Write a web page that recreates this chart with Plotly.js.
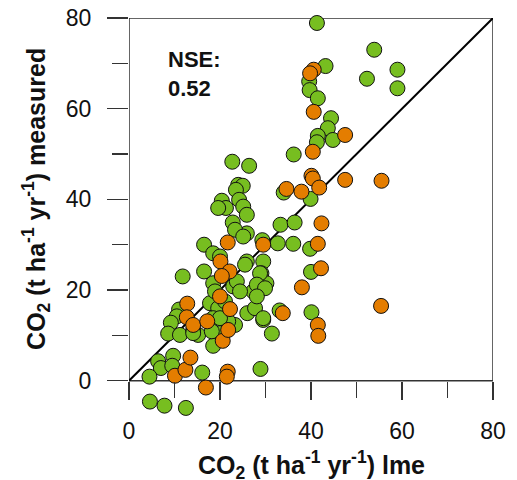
<!DOCTYPE html>
<html>
<head>
<meta charset="utf-8">
<script src="https://cdn.plot.ly/plotly-3.0.1.min.js"></script>
<style>html,body{margin:0;padding:0;background:#fff;}#chart{width:517px;height:480px;}</style>
</head>
<body>
<div id="chart"></div>
<script>
// Green series: lme-modelled vs measured CO2
const greenX = [41.3,53.9,59.0,52.3,59.0,43.2,39.6,39.7,41.5,44.4,43.7,41.5,44.8,41.3,36.2,34.0,39.9,33.3,36.4,39.8,36.1,40.0,40.1,32.7,29.5,29.1,30.2,33.1,29.5,31.4,28.9,
  22.7,26.4,24.0,25.0,23.5,20.4,24.2,21.3,25.1,19.6,25.9,22.8,25.9,23.3,25.1,16.5,18.5,20.0,25.9,16.5,22.9,18.5,17.8,19.6,27.3,26.0,27.7,
  11.8,11.0,10.5,9.2,8.6,11.2,15.2,14.1,18.5,20.0,18.5,18.2,6.4,7.0,9.7,9.5,4.5,16.1,4.6,7.8,12.5,
  25.5,28.8,23.7,24.4,28.1,29.9,28.1,29.5,23.3,29.3,18.9,21.1,21.8,20.0,14.1];
const greenY = [78.9,73.0,68.6,66.6,64.5,69.4,66.0,64.1,62.3,57.9,55.7,54.0,53.1,52.6,49.9,41.5,40.1,34.4,34.9,29.1,30.2,24.0,15.1,30.3,26.3,23.7,21.5,15.5,13.4,10.4,2.6,
  48.3,47.4,43.2,43.0,42.1,39.7,39.9,38.1,38.4,38.1,36.6,34.9,32.5,33.3,31.8,30.0,28.1,27.4,26.3,24.1,20.8,21.5,17.1,16.0,19.7,14.9,16.0,
  23.0,15.7,14.2,12.8,10.4,10.1,10.1,11.2,13.8,10.5,7.7,10.9,4.3,2.8,5.5,3.3,0.9,1.8,-4.6,-5.5,-6.0,
  25.6,23.7,21.9,19.7,21.2,20.4,18.6,13.8,12.3,31.0,19.7,17.5,13.1,13.8,10.5];
// Orange series
const orangeX = [40.6,39.8,40.6,47.5,40.4,40.1,40.4,47.5,55.5,34.6,37.9,41.8,42.3,41.5,42.2,38.0,55.4,41.5,41.6,33.8,
  21.7,21.5,16.9,10.1,12.4,13.5,20.6,21.8,21.7,20.1,22.1,20.4,20.0,22.2,12.8,12.7,14.1,17.2,29.5];
const orangeY = [68.6,67.8,59.3,54.2,50.5,45.2,44.6,44.3,44.1,42.3,41.7,42.6,34.7,30.2,24.8,20.6,16.5,12.3,9.9,14.9,
  2.0,0.9,-1.5,1.1,2.4,5.1,8.8,11.2,30.5,26.3,24.1,23.1,18.6,15.8,17.0,14.0,12.3,13.1,30.0];
// 1:1 line
const lineX = [0, 80];
const lineY = [0, 80];
const tickVals = [0, 20, 40, 60, 80];
const nseText = 'NSE:<br>0.52';
const xTitle = 'CO<sub>2</sub> (t ha<sup>-1</sup> yr<sup>-1</sup>) lme';
const yTitle = 'CO<sub>2</sub> (t ha<sup>-1</sup> yr<sup>-1</sup>) measured';

const FONT = 'Liberation Sans, Arial, sans-serif';
const mk = (c) => ({size: 15, color: c, line: {color: '#111', width: 1}});

const traces = [
  {x: lineX, y: lineY, mode: 'lines', line: {color: '#000', width: 2}, hoverinfo: 'skip', cliponaxis: false},
  {x: greenX, y: greenY, mode: 'markers', marker: mk('#77be20'), cliponaxis: false},
  {x: orangeX, y: orangeY, mode: 'markers', marker: mk('#e47d00'), cliponaxis: false}
];

const Y_MIN = -8;
const axisCommon = {
  tickvals: tickVals, showgrid: false, zeroline: false, showline: false,
  ticks: 'outside', tickcolor: '#333', tickwidth: 1.5,
  tickfont: {family: FONT, size: 23, color: '#111'},
  minor: {dtick: 10, tick0: 0, ticks: 'outside', ticklen: 16, tickwidth: 1.5, tickcolor: '#333'},
  fixedrange: true
};

const layout = {
  width: 517, height: 480,
  margin: {l: 129, r: 24, t: 18, b: 63, pad: 0},
  paper_bgcolor: '#fff', plot_bgcolor: 'rgba(0,0,0,0)',
  showlegend: false,
  xaxis: Object.assign({}, axisCommon, {range: [0, 80], ticklen: 18, ticklabelstandoff: 12,
    anchor: 'free', position: (0 - Y_MIN) / (80 - Y_MIN)}),
  yaxis: Object.assign({}, axisCommon, {range: [Y_MIN, 80], ticklen: 21, ticklabelstandoff: 11}),
  shapes: [
    {type: 'rect', xref: 'x', yref: 'y', x0: 0, x1: 80, y0: 0, y1: 80, layer: 'below',
     line: {color: '#333', width: 1.5}, fillcolor: 'rgba(0,0,0,0)'}
  ],
  annotations: [
    {xref: 'x', yref: 'y', x: 8.1, y: 74, xanchor: 'left', yanchor: 'top', align: 'left',
     text: '<b>' + nseText + '</b>', showarrow: false, font: {family: FONT, size: 22, color: '#111'}},
    {xref: 'paper', yref: 'paper', x: 0.5, y: -0.1203, xanchor: 'center', yanchor: 'middle',
     text: '<b>' + xTitle + '</b>', showarrow: false, font: {family: FONT, size: 25, color: '#111'}},
    {xref: 'paper', yref: 'y', x: -0.254, y: 40, xanchor: 'center', yanchor: 'middle', textangle: -90,
     text: '<b>' + yTitle + '</b>', showarrow: false, font: {family: FONT, size: 25, color: '#111'}}
  ]
};

Plotly.newPlot('chart', traces, layout, {displayModeBar: false, staticPlot: true});
</script>
</body>
</html>
